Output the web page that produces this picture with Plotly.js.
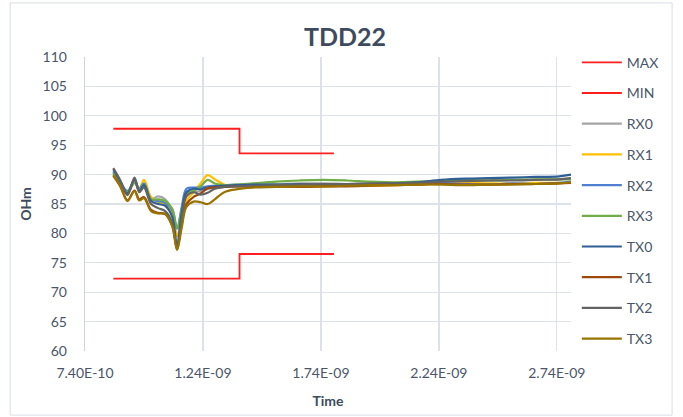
<!DOCTYPE html>
<html>
<head>
<meta charset="utf-8">
<script src="https://cdn.plot.ly/plotly-3.0.1.min.js"></script>
<style>html,body{margin:0;padding:0;background:#fff}#chart{width:683px;height:417px}</style>
</head>
<body>
<div id="chart"></div>
<script>
// Time in ns
const time = [0.86,0.89,0.92,0.95,0.97,0.99,1.02,1.05,1.08,1.11,1.13,1.15,1.17,1.20,1.23,1.26,1.29,1.33,1.38,1.45,
              1.55,1.65,1.75,1.85,1.95,2.05,2.15,2.25,2.35,2.45,2.55,2.65,2.75,2.80];

const limTime = [0.86, 1.395, 1.395, 1.795];
const maxVals = [97.8, 97.8, 93.6, 93.6];
const minVals = [72.3, 72.3, 76.5, 76.5];

const RX0 = [90.6,88.7,86.9,89.0,87.5,87.8,85.8,86.3,85.8,83.6,79.5,83.0,86.5,87.0,87.2,87.5,87.9,88.1,88.2,88.3,
             88.4,88.5,88.5,88.4,88.4,88.5,88.6,88.8,88.9,89.0,89.1,89.1,89.2,89.3];
const RX1 = [90.3,88.6,86.6,88.8,87.6,89.1,86.2,85.3,85.0,83.0,79.6,82.0,85.5,87.0,88.5,89.9,89.2,88.3,88.0,88.2,
             88.0,87.9,88.0,88.1,88.1,88.2,88.3,88.5,88.6,88.5,88.5,88.6,88.6,88.6];
const RX2 = [90.4,88.6,87.2,88.9,87.6,88.5,85.8,85.5,85.2,84.0,80.8,84.5,87.6,87.8,87.8,88.0,88.1,88.2,88.3,88.3,
             88.2,88.1,88.2,88.3,88.3,88.4,88.5,88.6,88.4,88.3,88.5,88.4,88.6,88.8];
const RX3 = [90.2,88.5,87.0,88.6,87.4,88.3,85.8,85.8,85.5,84.2,80.9,84.0,86.8,87.2,88.0,89.1,88.5,88.2,88.3,88.5,
             88.8,89.0,89.1,89.0,88.8,88.7,88.8,89.0,89.1,89.0,89.1,89.2,89.2,89.2];
const TX0 = [90.9,88.8,86.8,89.2,87.2,88.2,85.5,85.0,84.7,82.8,78.0,83.5,87.0,87.6,87.5,87.8,88.0,88.1,88.2,88.3,
             88.3,88.4,88.3,88.3,88.4,88.5,88.7,89.1,89.3,89.4,89.5,89.6,89.7,90.0];
const TX1 = [89.8,88.0,85.6,87.3,85.8,86.2,84.0,83.5,83.3,81.3,77.5,81.5,85.0,86.2,86.8,87.7,87.8,87.9,88.0,88.0,
             88.0,87.9,88.0,88.0,88.1,88.2,88.3,88.4,88.3,88.3,88.4,88.4,88.5,88.6];
const TX2 = [91.1,89.0,86.5,89.5,87.0,87.8,85.0,84.3,83.8,81.8,77.3,82.5,86.3,87.0,86.6,86.9,87.6,87.9,88.0,88.1,
             88.2,88.3,88.4,88.4,88.5,88.5,88.6,88.8,88.9,89.0,89.0,89.1,89.2,89.4];
const TX3 = [89.9,88.0,85.5,87.2,85.6,86.0,83.8,83.4,83.3,81.2,77.2,81.0,84.5,85.4,85.3,85.0,85.8,87.0,87.5,87.8,
             87.9,88.0,88.0,88.1,88.2,88.2,88.3,88.3,88.2,88.3,88.3,88.4,88.5,88.7];

const seriesNames = ['RX0','RX1','RX2','RX3','TX0','TX1','TX2','TX3'];
const seriesData = [RX0,RX1,RX2,RX3,TX0,TX1,TX2,TX3];
const seriesColors = ['#A5A5A5','#FFC000','#4F7FD0','#70AD47','#2F5F95','#9E480E','#636363','#997300'];

const xTickVals = [0.74,1.24,1.74,2.24,2.74];
const xTickText = ['7.40E-10','1.24E-09','1.74E-09','2.24E-09','2.74E-09'];
const yTickVals = [60,65,70,75,80,85,90,95,100,105,110];

const traces = [
  {x: limTime, y: maxVals, name: 'MAX', mode: 'lines', line: {color: '#FF1F1F', width: 1.8}, legendgroup: 'g0'},
  {x: limTime, y: minVals, name: 'MIN', mode: 'lines', line: {color: '#FF1F1F', width: 1.8}, legendgroup: 'g1'}
];
seriesNames.forEach((n, i) => {
  traces.push({x: time, y: seriesData[i], name: n, mode: 'lines',
    line: {color: seriesColors[i], width: 2.2, shape: 'spline', smoothing: 1}, legendgroup: 'g' + (i + 2)});
});

const fontFam = 'Lato, "Open Sans", sans-serif';
const layout = {
  width: 683, height: 417,
  margin: {l: 85, r: 112, t: 57, b: 66},
  paper_bgcolor: '#ffffff', plot_bgcolor: '#ffffff',
  font: {family: fontFam, color: '#4A5668', size: 14},
  title: {text: '<b>TDD22</b>', font: {size: 25, color: '#3E4B5E', family: fontFam}, x: 0.505, xanchor: 'center', y: 0.91, yanchor: 'middle'},
  xaxis: {
    range: [0.74, 2.80], tickvals: xTickVals, ticktext: xTickText,
    showgrid: true, gridcolor: '#DDE2E8', gridwidth: 1.3, zeroline: false,
    showline: false, ticks: '', ticklabelstandoff: 12, tickfont: {size: 14, color: '#4A5668'},
    title: {text: '<b>Time</b>', font: {size: 14, color: '#3E4B5E'}, standoff: 16}
  },
  yaxis: {
    range: [60, 110], tickvals: yTickVals,
    showgrid: true, gridcolor: '#DDE2E8', gridwidth: 1.3, zeroline: false,
    showline: true, linecolor: '#CDD3DB', linewidth: 1.3, ticks: '', ticklabelstandoff: 14,
    tickfont: {size: 14, color: '#4A5668'},
    title: {text: '<b>OHm</b>', font: {size: 14, color: '#3E4B5E'}, standoff: 7}
  },
  legend: {
    x: 1.012, xanchor: 'left', y: 1.035, yanchor: 'top',
    font: {size: 14, color: '#4A5668'}, tracegroupgap: 9.5, itemwidth: 40,
    bgcolor: 'rgba(0,0,0,0)', maxheight: 400
  },
  shapes: [{type: 'rect', xref: 'paper', yref: 'paper', x0: -0.154, x1: 1.208, y0: -0.218, y1: 1.184,
            line: {color: '#D9DEE4', width: 1}, fillcolor: 'rgba(0,0,0,0)'}],
  showlegend: true
};

Plotly.newPlot('chart', traces, layout, {displayModeBar: false, staticPlot: true});
</script>
</body>
</html>
